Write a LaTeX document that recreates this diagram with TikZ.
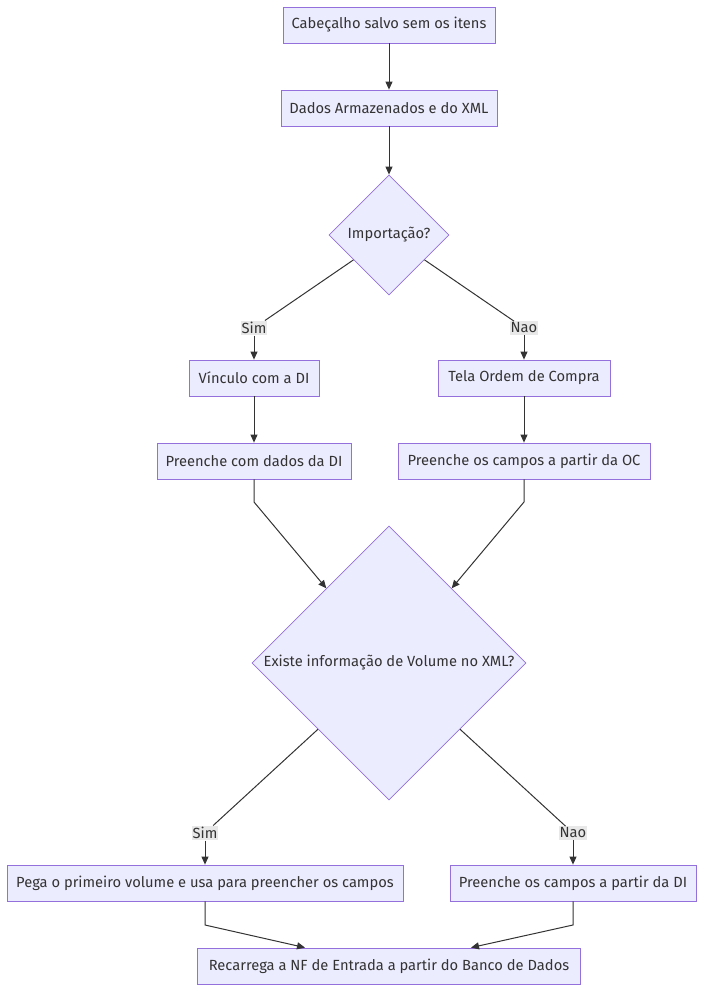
\documentclass[tikz,border=0pt]{standalone}
\usepackage{fontspec}
\setmainfont{Fira Sans}
\usetikzlibrary{shapes.geometric,arrows.meta}
\definecolor{boxfill}{HTML}{ECECFF}
\definecolor{boxline}{HTML}{9370DB}
\definecolor{edge}{HTML}{333333}
\definecolor{lblbg}{HTML}{E8E8E8}
\tikzset{
  x=1pt, y=-1pt,
  every node/.style={font=\fontsize{14.7}{17}\selectfont, text=edge},
  box/.style={draw=boxline, fill=boxfill, line width=0.8pt, minimum height=36pt, inner xsep=0pt, inner ysep=0pt},
  dia/.style={draw=boxline, fill=boxfill, line width=0.8pt, diamond, inner sep=0pt, aspect=1},
  lbl/.style={fill=lblbg, inner xsep=1pt, inner ysep=1.5pt},
  conn/.style={draw=edge, line width=1pt, -{Triangle[length=8pt,width=7pt]}},
  seg/.style={draw=edge, line width=1pt}
}
\begin{document}
\begin{tikzpicture}
\useasboundingbox (0,0) rectangle (704,991);
\node[box, minimum width=212pt] (n1) at (389,25) {Cabeçalho salvo sem os itens};
\node[box, minimum width=216pt] (n2) at (389,108) {Dados Armazenados e do XML};
\node[dia, minimum size=120pt, label={center:Importação?}] (d1) at (389,235) {};
\node[box, minimum width=130pt] (n4) at (254,378) {Vínculo com a DI};
\node[box, minimum width=172pt] (n5) at (524,378) {Tela Ordem de Compra};
\node[box, minimum width=194pt] (n6) at (254,461) {Preenche com dados da DI};
\node[box, minimum width=252pt] (n7) at (524,461) {Preenche os campos a partir da OC};
\node[dia, minimum size=274pt, label={center:Existe informação de Volume no XML?}] (d2) at (389,663) {};
\node[box, minimum width=396pt] (n9) at (205,883) {Pega o primeiro volume e usa para preencher os campos};
\node[box, minimum width=246pt] (n10) at (573,883) {Preenche os campos a partir da DI};
\node[box, minimum width=383pt] (n11) at (389,966) {Recarrega a NF de Entrada a partir do Banco de Dados};

\node[lbl] (l1) at (254,328) {Sim};
\node[lbl] (l2) at (524,328) {Nao};
\node[lbl] (l3) at (205,833) {Sim};
\node[lbl] (l4) at (573,833) {Nao};

\coordinate (b6) at (254,502);
\coordinate (b7) at (524,502);
\coordinate (b9) at (205,925);
\coordinate (b10) at (573,925);

\draw[conn] (n1) -- (n2);
\draw[conn] (n2) -- (d1);
\draw[seg] (d1.215) -- (l1);
\draw[conn] (l1) -- (n4);
\draw[seg] (d1.325) -- (l2);
\draw[conn] (l2) -- (n5);
\draw[conn] (n4) -- (n6);
\draw[conn] (n5) -- (n7);
\draw[conn] (n6.south) -- (b6) -- (d2.130);
\draw[conn] (n7.south) -- (b7) -- (d2.50);
\draw[seg] (d2.223) -- (l3);
\draw[conn] (l3) -- (n9);
\draw[seg] (d2.317) -- (l4);
\draw[conn] (l4) -- (n10);
\draw[conn] (n9.south) -- (b9) -- (n11.north -| 305,0);
\draw[conn] (n10.south) -- (b10) -- (n11.north -| 471,0);
\end{tikzpicture}
\end{document}
